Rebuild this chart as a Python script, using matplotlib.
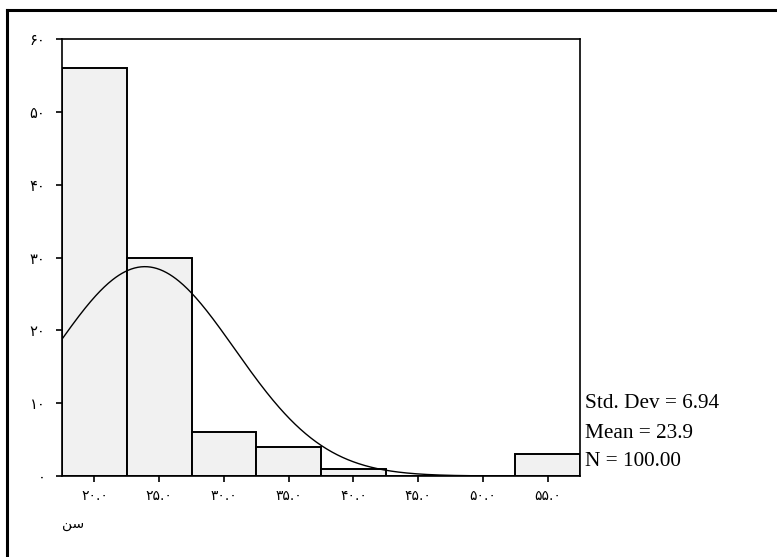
import numpy as np
import matplotlib
matplotlib.use("Agg")
import matplotlib.pyplot as plt
from matplotlib.lines import Line2D

# Data
bin_centers = [20, 25, 30, 35, 40, 45, 50, 55]
counts = [56, 30, 6, 4, 1, 0, 0, 3]
x_tick_labels = ["۲۰.۰", "۲۵.۰", "۳۰.۰", "۳۵.۰", "۴۰.۰", "۴۵.۰", "۵۰.۰", "۵۵.۰"]
y_ticks = [0, 10, 20, 30, 40, 50, 60]
y_tick_labels = ["۰", "۱۰", "۲۰", "۳۰", "۴۰", "۵۰", "۶۰"]
mean_val = 23.9
std_val = 6.94
n_val = 100.00
bin_width = 5

fig = plt.figure(figsize=(7.77, 5.57), dpi=100)
ax = fig.add_axes([62/777, 1-476/557, (580-62)/777, (476-39)/557])

ax.bar(bin_centers, counts, width=bin_width, align="center",
       color="#f1f1f1", edgecolor="black", linewidth=1.4, zorder=2)

xs = np.linspace(17.5, 50, 400)
ys = n_val * bin_width / (std_val * np.sqrt(2*np.pi)) * np.exp(-0.5*((xs-mean_val)/std_val)**2)
ax.plot(xs, ys, color="black", linewidth=1.0, zorder=3)

ax.set_xlim(17.5, 57.5)
ax.set_ylim(0, 60)
ax.set_xticks(bin_centers)
ax.set_xticklabels(x_tick_labels, family="DejaVu Sans", fontsize=10)
ax.set_yticks(y_ticks)
ax.set_yticklabels(y_tick_labels, family="DejaVu Sans", fontsize=10.5)
ax.tick_params(axis="both", direction="out", length=4, width=1.2)
ax.tick_params(axis="x", pad=5)
ax.tick_params(axis="y", pad=8)
for s in ax.spines.values():
    s.set_linewidth(1.2)

# Outer frame (top and left edges)
fig.add_artist(Line2D([7/777, 1], [1-9.5/557, 1-9.5/557], color="black", linewidth=2.2, transform=fig.transFigure))
fig.add_artist(Line2D([7/777, 7/777], [0, 1-9.5/557], color="black", linewidth=2.2, transform=fig.transFigure))

# Axis title (Persian "سن" in presentation forms for visual shaping)
fig.text(62/777, 1-524/557, "\uFEE6\uFEB3", family="DejaVu Sans", fontsize=10, va="center", ha="left")

# Stats text
stats = [f"Std. Dev = {std_val:.2f}", f"Mean = {mean_val:.1f}", f"N = {n_val:.2f}"]
ypos = [403, 433, 462]
for t, yp in zip(stats, ypos):
    fig.text(585/777, 1-yp/557, t, family="Liberation Serif", fontsize=15.3, va="center", ha="left")

fig.savefig("out.png", dpi=100)
